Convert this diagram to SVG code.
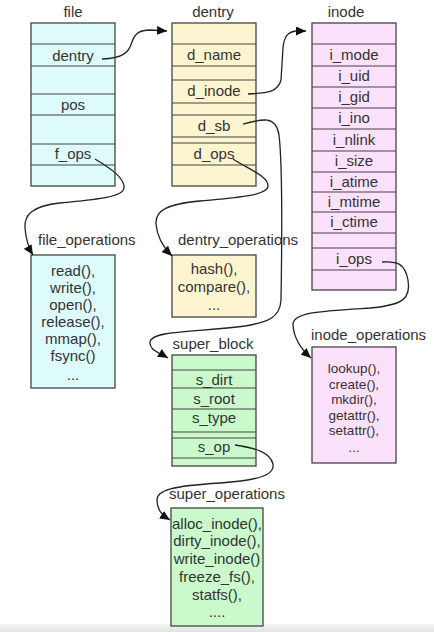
<svg xmlns="http://www.w3.org/2000/svg" width="434" height="632" viewBox="0 0 434 632">
<style>
text{font-family:"Liberation Sans",Arial,sans-serif;font-size:15px;fill:#333;text-anchor:middle}
.t{text-anchor:start}
.sm{font-size:13.5px}
.box{stroke:#444;stroke-width:1.3}
.div{stroke:#444;stroke-width:1.2}
.f{fill:#ddfbfb}
.d{fill:#fcf5d0}
.i{fill:#fce1fc}
.s{fill:#cafacb}
.c{fill:none;stroke:#222;stroke-width:1.3;marker-end:url(#ah)}
</style>
<defs>
<linearGradient id="bar" x1="0" y1="0" x2="0" y2="1"><stop offset="0" stop-color="#f4f4f4"/><stop offset="1" stop-color="#e2e2e2"/></linearGradient>
<marker id="ah" markerUnits="userSpaceOnUse" markerWidth="11" markerHeight="9" refX="10" refY="4.5" orient="auto"><path d="M0,0 L10,4.5 L0,9 z" fill="#111"/></marker>
</defs>
<rect x="0" y="0" width="434" height="632" fill="#fff"/>
<rect x="0" y="624" width="434" height="8" fill="url(#bar)"/>

<g id="file">
<text x="73" y="17">file</text>
<rect class="box f" x="31" y="23" width="84" height="163"/>
<path class="div" d="M31,44H115M31,66H115M31,94H115M31,115H115M31,144H115M31,165H115"/>
<text x="73" y="61">dentry</text>
<text x="73" y="110">pos</text>
<text x="73" y="159">f_ops</text>
</g>

<g id="dentry">
<text x="213" y="17">dentry</text>
<rect class="box d" x="172" y="23" width="84" height="163"/>
<path class="div" d="M172,44H256M172,66H256M172,80H256M172,103H256M172,115H256M172,137H256M172,143H256M172,165H256"/>
<text x="214" y="60">d_name</text>
<text x="214" y="96">d_inode</text>
<text x="214" y="131">d_sb</text>
<text x="214" y="159">d_ops</text>
</g>

<g id="inode">
<text x="346" y="17">inode</text>
<rect class="box i" x="312" y="23" width="84" height="267"/>
<path class="div" d="M312,44H396M312,66H396M312,87H396M312,108H396M312,129H396M312,151H396M312,172H396M312,192H396M312,212H396M312,233H396M312,248H396M312,270H396"/>
<text x="354" y="60">i_mode</text>
<text x="354" y="81">i_uid</text>
<text x="354" y="102">i_gid</text>
<text x="354" y="123">i_ino</text>
<text x="354" y="145">i_nlink</text>
<text x="354" y="166">i_size</text>
<text x="354" y="187">i_atime</text>
<text x="354" y="207">i_mtime</text>
<text x="354" y="227">i_ctime</text>
<text x="354" y="264">i_ops</text>
</g>

<g id="file_operations">
<text class="t" x="38" y="245">file_operations</text>
<rect class="box f" x="31" y="255" width="84" height="133"/>
<text x="73" y="276">read(),</text>
<text x="73" y="293">write(),</text>
<text x="73" y="310">open(),</text>
<text x="73" y="327">release(),</text>
<text x="73" y="344">mmap(),</text>
<text x="73" y="361">fsync()</text>
<text x="73" y="380">...</text>
</g>

<g id="dentry_operations">
<text class="t" x="178" y="245">dentry_operations</text>
<rect class="box d" x="172" y="255" width="84" height="62"/>
<text x="214" y="274">hash(),</text>
<text x="214" y="292">compare(),</text>
<text x="214" y="310">...</text>
</g>

<g id="inode_operations">
<text class="t" x="311" y="340">inode_operations</text>
<rect class="box i" x="312" y="347" width="84" height="116"/>
<text class="sm" x="354" y="373">lookup(),</text>
<text class="sm" x="354" y="388.6">create(),</text>
<text class="sm" x="354" y="404.2">mkdir(),</text>
<text class="sm" x="354" y="419.8">getattr(),</text>
<text class="sm" x="354" y="435.4">setattr(),</text>
<text class="sm" x="354" y="452">...</text>
</g>

<g id="super_block">
<text x="213" y="349">super_block</text>
<rect class="box s" x="172" y="355" width="84" height="111"/>
<path class="div" d="M172,370H256M172,388H256M172,409H256M172,432H256M172,438H256M172,458H256"/>
<text x="214" y="385">s_dirt</text>
<text x="214" y="404">s_root</text>
<text x="214" y="423">s_type</text>
<text x="214" y="452">s_op</text>
</g>

<g id="super_operations">
<text class="t" x="169" y="499">super_operations</text>
<rect class="box s" x="171" y="508" width="92" height="118"/>
<text x="217" y="529">alloc_inode(),</text>
<text x="217" y="546">dirty_inode(),</text>
<text x="217" y="564">write_inode()</text>
<text x="217" y="582">freeze_fs(),</text>
<text x="217" y="600">statfs(),</text>
<text x="217" y="617">....</text>
</g>

<g id="connectors">
<path class="c" d="M102,59 C124,58 129,52 132,42 C135,33 140,30 150,30 L167,31"/>
<path class="c" d="M248,94 C268,93 278,92 281,80 L283,48 C284,36 288,32 296,31 L306,31"/>
<path class="c" d="M243,124 C262,119 276,115 279,135 C282,160 282,240 281,300 C280,318 268,322 245,326 C200,332 152,330 150,342 C149,350 158,352 168,358"/>
<path class="c" d="M233,159 C250,170 268,176 268,186 C268,196 232,198 200,201 C168,204 155,210 156,224 C157,238 164,248 172,256"/>
<path class="c" d="M95,159 C110,168 125,178 124,188 C123,198 90,200 60,203 C32,206 24,215 25,228 C26,240 28,247 33,255"/>
<path class="c" d="M382,262 C398,261 405,264 408,280 C411,298 404,305 370,308 C322,311 292,312 293,325 C294,340 302,350 311,358"/>
<path class="c" d="M235,445 C255,448 270,452 273,464 C275,475 260,480 220,483 C172,486 157,490 157,500 C157,510 162,515 170,520"/>
</g>
</svg>
